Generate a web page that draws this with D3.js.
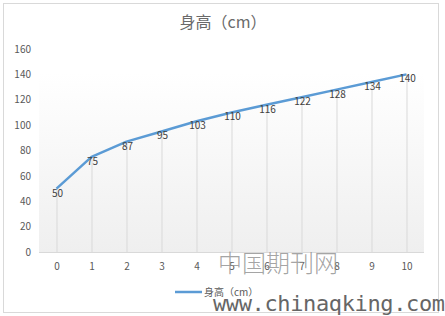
<!DOCTYPE html>
<html>
<head>
<meta charset="utf-8">
<script src="https://cdn.jsdelivr.net/npm/d3@7"></script>
<style>
  body { margin: 0; background: #fff; }
  text { font-family: "Noto Sans CJK SC", "Open Sans", sans-serif; }
</style>
</head>
<body>
<div id="chart"></div>
<script>
;(function () {
  const categories = [0, 1, 2, 3, 4, 5, 6, 7, 8, 9, 10]
  const heights = [50, 75, 87, 95, 103, 110, 116, 122, 128, 134, 140]
  const yTicks = [0, 20, 40, 60, 80, 100, 120, 140, 160]

  const width = 445
  const height = 316
  const plot = { left: 39, right: 424, top: 49, bottom: 252 }

  const svg = d3.select("#chart").append("svg").attr("width", width).attr("height", height)

  // outer chart border
  svg.append("rect")
    .attr("x", 3.5).attr("y", 3.5)
    .attr("width", 435).attr("height", 309)
    .attr("fill", "#fff").attr("stroke", "#d9d9d9")

  // plot area gradient
  const grad = svg.append("defs").append("linearGradient")
    .attr("id", "bg").attr("x1", 0).attr("y1", 0).attr("x2", 0).attr("y2", 1)
  grad.append("stop").attr("offset", "0%").attr("stop-color", "#ffffff")
  grad.append("stop").attr("offset", "100%").attr("stop-color", "#efefef")

  svg.append("rect")
    .attr("x", plot.left).attr("y", 73)
    .attr("width", plot.right - plot.left).attr("height", plot.bottom - 73)
    .attr("fill", "url(#bg)")

  const x = d3.scalePoint().domain(categories).range([plot.left, plot.right]).padding(0.5)
  const y = d3.scaleLinear().domain([0, 160]).range([plot.bottom, plot.top])

  // title
  svg.append("text")
    .attr("x", 223).attr("y", 28)
    .attr("text-anchor", "middle")
    .attr("font-size", 16).attr("fill", "#6a6a6a")
    .text("身高（cm）")

  // y axis labels
  svg.append("g")
    .attr("transform", `translate(31,0)`)
    .call(d3.axisLeft(y).tickValues(yTicks).tickSize(0).tickPadding(0))
    .call(g => g.select(".domain").remove())
    .selectAll("text")
    .attr("font-size", 10).attr("fill", "#595959")

  // drop lines from each point
  svg.append("g").selectAll("line")
    .data(heights)
    .join("line")
    .attr("x1", (d, i) => x(categories[i]) + 0.5)
    .attr("x2", (d, i) => x(categories[i]) + 0.5)
    .attr("y1", d => y(d))
    .attr("y2", plot.bottom)
    .attr("stroke", "#d9d9d9")

  // x axis
  svg.append("g")
    .attr("transform", `translate(0,${plot.bottom})`)
    .call(d3.axisBottom(x).tickSize(0).tickPadding(11))
    .call(g => g.select(".domain").attr("stroke", "#d9d9d9").attr("d", `M${plot.left},0.5H${plot.right}`))
    .selectAll("text")
    .attr("font-size", 10).attr("fill", "#595959")

  // series line
  const line = d3.line()
    .x((d, i) => x(categories[i]))
    .y(d => y(d))

  svg.append("path")
    .datum(heights)
    .attr("d", line)
    .attr("fill", "none")
    .attr("stroke", "#5b9bd5")
    .attr("stroke-width", 2.5)
    .attr("stroke-linejoin", "round")

  // data labels
  svg.append("g").selectAll("text")
    .data(heights)
    .join("text")
    .attr("x", (d, i) => x(categories[i]) + 1)
    .attr("y", d => y(d) + 8)
    .attr("text-anchor", "middle")
    .attr("font-size", 10).attr("fill", "#404040")
    .text(d => d)

  // legend
  svg.append("line")
    .attr("x1", 175).attr("x2", 202).attr("y1", 292).attr("y2", 292)
    .attr("stroke", "#5b9bd5").attr("stroke-width", 2.5)
  svg.append("text")
    .attr("x", 204).attr("y", 296)
    .attr("font-size", 10).attr("fill", "#595959")
    .text("身高（cm）")

  // watermark
  svg.append("text")
    .attr("x", 218).attr("y", 272)
    .attr("font-size", 24).attr("fill", "#8c8c8c").attr("fill-opacity", 0.8)
    .style("font-family", "'Noto Sans CJK SC', sans-serif").style("font-weight", 300)
    .attr("textLength", 120)
    .text("中国期刊网")
  svg.append("text")
    .attr("x", 213).attr("y", 311)
    .attr("font-size", 22).attr("fill", "#666")
    .style("font-family", "'DejaVu Sans Mono', monospace")
    .attr("textLength", 232)
    .text("www.chinaqking.com")
})()
</script>
</body>
</html>
